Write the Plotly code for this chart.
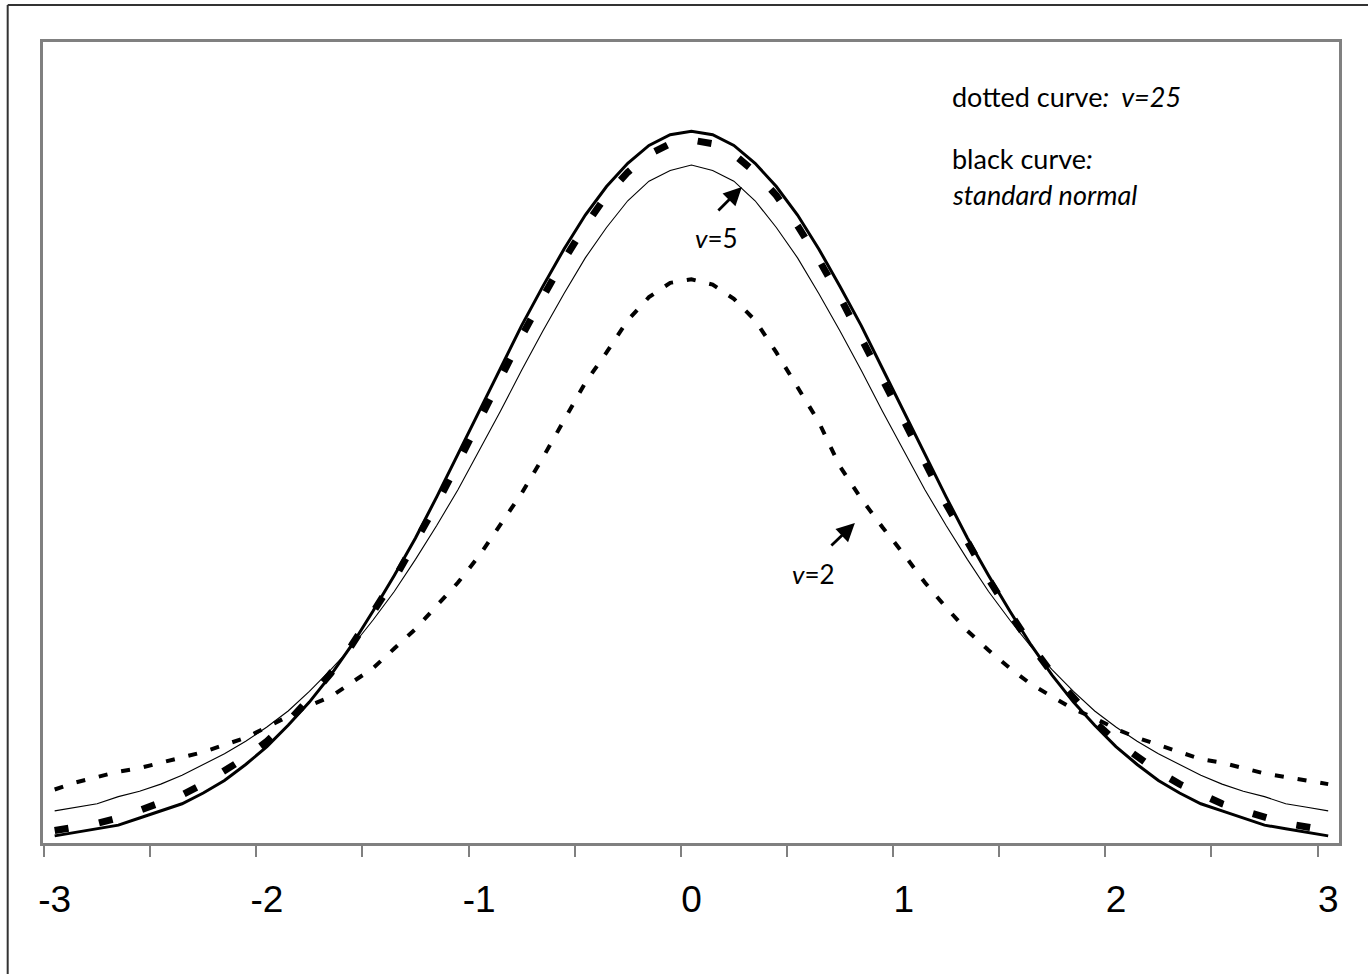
import plotly.graph_objects as go

# ---- data ----
x_vals = [round(-3 + 0.1 * i, 1) for i in range(61)]

normal_left = [0.004, 0.006, 0.008, 0.010, 0.014, 0.018, 0.022, 0.028, 0.035, 0.044,
               0.054, 0.066, 0.079, 0.094, 0.111, 0.130, 0.150, 0.171, 0.194, 0.218,
               0.242, 0.266, 0.290, 0.312, 0.333, 0.352, 0.368, 0.381, 0.391, 0.397]
normal_peak = [0.399]
t5_left = [0.018, 0.020, 0.022, 0.026, 0.029, 0.033, 0.038, 0.044, 0.050, 0.057,
           0.065, 0.074, 0.085, 0.097, 0.110, 0.125, 0.141, 0.159, 0.178, 0.198,
           0.220, 0.242, 0.265, 0.287, 0.308, 0.328, 0.345, 0.360, 0.371, 0.377]
t5_peak = [0.380]
t25_left = [0.007, 0.009, 0.011, 0.014, 0.018, 0.022, 0.027, 0.033, 0.040, 0.048,
            0.057, 0.068, 0.081, 0.095, 0.111, 0.129, 0.148, 0.169, 0.190, 0.213,
            0.237, 0.260, 0.284, 0.306, 0.327, 0.346, 0.363, 0.376, 0.386, 0.392]
t25_peak = [0.394]

normal_vals = normal_left + normal_peak + normal_left[::-1]
t5_vals = t5_left + t5_peak + t5_left[::-1]
t25_vals = t25_left + t25_peak + t25_left[::-1]

t2_vals = [0.030, 0.034, 0.037, 0.040, 0.042, 0.045, 0.048, 0.051, 0.055, 0.059,
           0.065, 0.071, 0.077, 0.082, 0.090, 0.098, 0.109, 0.120, 0.133, 0.146,
           0.161, 0.179, 0.196, 0.216, 0.237, 0.258, 0.275, 0.293, 0.306, 0.314,
           0.316,
           0.313, 0.305, 0.293, 0.275, 0.256, 0.236, 0.211, 0.193, 0.177, 0.162,
           0.146, 0.132, 0.119, 0.108, 0.098, 0.089, 0.082, 0.075, 0.070, 0.064,
           0.059, 0.055, 0.051, 0.047, 0.045, 0.042, 0.039, 0.037, 0.035, 0.033]

tick_labels = ["-3", "-2", "-1", "0", "1", "2", "3"]
tick_positions = [-3, -2, -1, 0, 1, 2, 3]
minor_tick_positions = [-3.05 + 0.5 * k for k in range(13)]

# ---- layout geometry ----
W, H = 1368, 974
L, R, T, B = 43.3, 1339.0, 42.0, 843.0
XR = [-3.055, 3.051]
YR = [0, 0.449]


def px_to_paper(px, py):
    return (px - L) / (R - L), (B - py) / (B - T)


def px_to_data(px, py):
    xd = XR[0] + (px - L) / (R - L) * (XR[1] - XR[0])
    yd = YR[0] + (B - py) / (B - T) * (YR[1] - YR[0])
    return xd, yd


fig = go.Figure()
fig.add_trace(go.Scatter(x=x_vals, y=t2_vals, mode="lines",
                         line=dict(color="black", width=4, dash="9px,14px")))
fig.add_trace(go.Scatter(x=x_vals, y=t5_vals, mode="lines",
                         line=dict(color="black", width=1.1)))
fig.add_trace(go.Scatter(x=x_vals, y=t25_vals, mode="lines",
                         line=dict(color="black", width=7, dash="14px,31px")))
fig.add_trace(go.Scatter(x=x_vals, y=normal_vals, mode="lines",
                         line=dict(color="black", width=3)))

annotations = []


def add_text(text, px, py, size):
    xp, yp = px_to_paper(px, py)
    annotations.append(dict(text=text, x=xp, y=yp, xref="paper", yref="paper",
                            xanchor="left", yanchor="middle", showarrow=False,
                            font=dict(family="Lato", size=size, color="black")))


add_text("dotted curve<i>:\u00a0 v=25</i>", 950, 96, 27)
add_text("black curve<i>:</i>", 950, 158, 27)
add_text("<i>standard normal</i>", 950, 194, 27)
add_text("<i>v</i>=5", 693, 238, 26)
add_text("<i>v</i>=2", 790, 574, 26)


def add_arrow(tail, head):
    hx, hy = px_to_data(*head)
    annotations.append(dict(text="", x=hx, y=hy, xref="x", yref="y",
                            ax=tail[0] - head[0], ay=tail[1] - head[1],
                            axref="pixel", ayref="pixel", showarrow=True,
                            arrowhead=2, arrowsize=1.3, arrowwidth=2.8,
                            arrowcolor="black"))


add_arrow((717, 212), (742, 187))
add_arrow((830, 547), (855, 523))

fig.update_layout(
    width=W, height=H,
    margin=dict(l=L, r=W - R, t=T, b=H - B, pad=0),
    paper_bgcolor="white", plot_bgcolor="white",
    showlegend=False,
    annotations=annotations,
    shapes=[
        dict(type="line", xref="paper", yref="paper",
             x0=(8 - L) / (R - L), x1=(8 - L) / (R - L),
             y0=(B - 5) / (B - T), y1=(B - 980) / (B - T),
             line=dict(color="#333333", width=2)),
        dict(type="line", xref="paper", yref="paper",
             x0=(8 - L) / (R - L), x1=(1370 - L) / (R - L),
             y0=(B - 5) / (B - T), y1=(B - 5) / (B - T),
             line=dict(color="#333333", width=2)),
    ],
)
fig.update_xaxes(
    range=XR, showgrid=False, zeroline=False,
    showline=True, mirror=True, linecolor="#808080", linewidth=3,
    tickmode="array", tickvals=tick_positions, ticktext=tick_labels,
    ticks="", tickfont=dict(family="Liberation Sans", size=37, color="black"),
    ticklabelstandoff=22,
    minor=dict(tickmode="array", tickvals=minor_tick_positions, ticks="outside",
               ticklen=11, tickwidth=1.5, tickcolor="#808080", showgrid=False),
)
fig.update_yaxes(
    range=YR, showgrid=False, zeroline=False,
    showline=True, mirror=True, linecolor="#808080", linewidth=3,
    showticklabels=False, ticks="",
)

fig.write_html(
    "out.html",
    config={"displayModeBar": False},
    post_script="document.body.style.margin='0';document.body.style.overflow='hidden';",
)
